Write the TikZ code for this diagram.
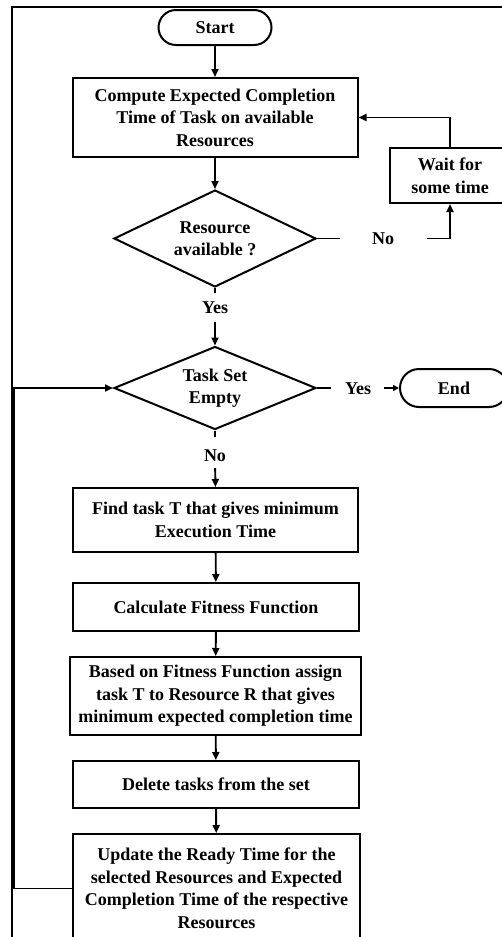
\documentclass[tikz,border=0pt]{standalone}
\usepackage{fontspec}
\setmainfont{Liberation Serif}
\usetikzlibrary{shapes.geometric,arrows.meta}
\tikzset{
  base/.style={font=\fontsize{18}{22.5}\selectfont\bfseries, align=center, inner sep=0pt},
  procbox/.style={base, draw, rectangle, line width=2pt},
  termbox/.style={base, draw, rectangle, line width=2pt},
  decbox/.style={base, draw, diamond, aspect=2, line width=2pt},
  lbl/.style={base, text height=12pt, text depth=0pt},
  conn/.style={line width=1.9pt},
  arr/.style={conn, -{Triangle[length=8pt,width=7pt]}},
  smallarr/.style={conn, -{Triangle[length=6pt,width=6pt]}},
  frameline/.style={line width=1.7pt},
}
\begin{document}
\begin{tikzpicture}[x=1pt,y=-1pt]
\clip (0,0) rectangle (502,937);
\useasboundingbox (0,0) rectangle (502,937);
\fill[white] (0,0) rectangle (502,937);
% outer frame
\draw[frameline] (12.3,950) -- (12.3,7) -- (520,7);

\node[termbox, minimum width=113pt, minimum height=35pt, rounded corners=17.5pt] (start) at (215,27.5) {Start};
\node[procbox, minimum width=285pt, minimum height=79pt] (compute) at (215,117.5)
  {Compute Expected Completion\\Time of Task on available\\Resources};
\node[decbox, minimum width=202pt, minimum height=97pt] (d1) at (215,238.5) {Resource\\available ?};
\node[procbox, minimum width=120pt, minimum height=55pt] (wait) at (450,175.5) {Wait for\\some time};
\node[lbl] (no1) at (383,238.5) {No};
\node[lbl] (yes1) at (215,307) {Yes};
\node[decbox, minimum width=202pt, minimum height=83pt] (d2) at (215,388) {Task Set\\Empty};
\node[lbl] (yes2) at (358,388) {Yes};
\node[termbox, minimum width=108pt, minimum height=38pt, rounded corners=19pt] (end) at (454,388) {End};
\node[lbl] (no2) at (215,455) {No};
\node[procbox, minimum width=285pt, minimum height=64pt] (find) at (215.5,520)
  {Find task T that gives minimum\\Execution Time};
\node[procbox, minimum width=286pt, minimum height=48pt] (calc) at (216,607) {Calculate Fitness Function};
\node[procbox, minimum width=291pt, minimum height=78pt] (based) at (215.5,696)
  {Based on Fitness Function assign\\task T to Resource R that gives\\minimum expected completion time};
\node[procbox, minimum width=286pt, minimum height=47pt] (delete) at (216,784.5) {Delete tasks from the set};
\node[procbox, minimum width=287pt, minimum height=109pt] (update) at (216.5,888.5)
  {Update the Ready Time for the\\selected Resources and Expected\\Completion Time of the respective\\Resources};
\coordinate (loopx) at (14,0);

% connectors
\draw[arr] (start) -- (compute);
\draw[arr] (compute) -- (d1);
\draw[conn, shorten >=32pt] (d1.east) -- (no1.west);
\draw[arr, shorten <=33pt] (no1.east) -| (wait.south);
\draw[arr] (wait.north) |- (compute.east);
\draw[conn, shorten >=8pt] (d1.south) -- (yes1.north);
\draw[arr, shorten <=9pt] (yes1.south) -- (d2.north);
\draw[conn, shorten >=14pt] (d2.east) -- (yes2.west);
\draw[smallarr, shorten <=13pt] (yes2.east) -- (end.west);
\draw[conn, shorten >=12pt] (d2.south) -- (no2.north);
\draw[arr, shorten <=7pt] (no2.south) -- (find.north);
\draw[arr] (find) -- (calc);
\draw[arr] (calc) -- (based);
\draw[arr] (based) -- (delete);
\draw[arr] (delete) -- (update);
\draw[arr] (update.west) -- (update.west -| loopx) |- (d2.west);
\end{tikzpicture}
\end{document}
